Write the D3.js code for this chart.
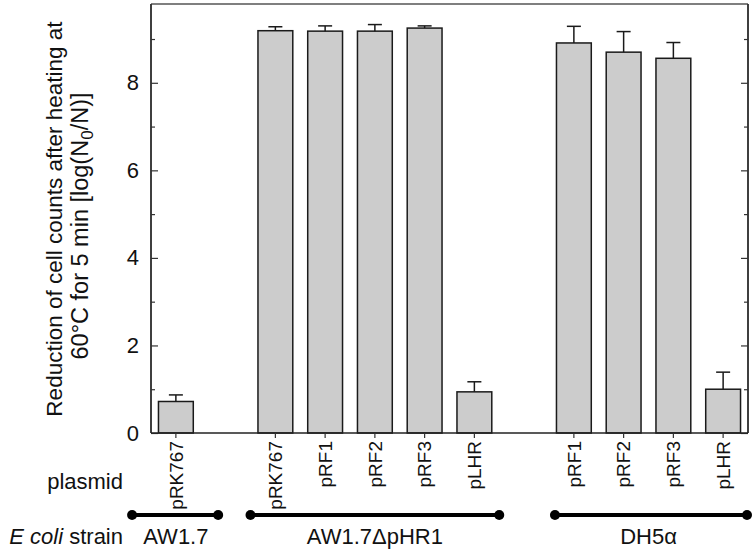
<!DOCTYPE html>
<html>
<head>
<meta charset="utf-8">
<script src="https://cdn.jsdelivr.net/npm/d3@7"></script>
<style>
  html, body { margin: 0; padding: 0; background: #fff; }
  svg { display: block; font-family: Arial, "Liberation Sans", sans-serif; }
</style>
</head>
<body>
<svg id="chart" width="756" height="555"></svg>
<script>
// ---- data ----
const strains = ["AW1.7", "AW1.7\u0394pHR1", "DH5\u03b1"];
const plasmids = [
  ["pRK767"],
  ["pRK767", "pRF1", "pRF2", "pRF3", "pLHR"],
  ["pRF1", "pRF2", "pRF3", "pLHR"]
];
const means = [
  [0.72],
  [9.19, 9.18, 9.18, 9.25, 0.94],
  [8.91, 8.70, 8.56, 1.00]
];
const errors = [
  [0.15],
  [0.09, 0.12, 0.15, 0.05, 0.23],
  [0.38, 0.47, 0.36, 0.39]
];
const yMajorTicks = [0, 2, 4, 6, 8];
const yMinorTicks = [1, 3, 5, 7, 9];
const yMax = 9.8;

// ---- layout ----
const L = 151, R = 748, T = 4, B = 433;
const spanExt = [[0.88, 0.85], [0.5, 0.5], [0.38, 0.48]]; // bracket overhang in steps

const rows = [];
const domain = [];
strains.forEach((s, i) => {
  plasmids[i].forEach((p, j) => {
    const id = i + "-" + j;
    domain.push(id);
    rows.push({ id, strain: s, g: i, plasmid: p, mean: means[i][j], err: errors[i][j] });
  });
  if (i < strains.length - 1) domain.push("gap" + i);
});

const svg = d3.select("#chart");
const x = d3.scaleBand().domain(domain).range([L, R]).paddingInner(0.3).paddingOuter(0.15);
const y = d3.scaleLinear().domain([0, yMax]).range([B, T]);

// bars
svg.append("g").selectAll("rect").data(rows).join("rect")
  .attr("x", d => x(d.id)).attr("width", x.bandwidth())
  .attr("y", d => y(d.mean)).attr("height", d => y(0) - y(d.mean))
  .attr("fill", "#cccccc").attr("stroke", "#1a1a1a").attr("stroke-width", 1.5);

// error bars (upper only)
const eb = svg.append("g").attr("stroke", "#1a1a1a").attr("stroke-width", 1.5);
rows.forEach(d => {
  const cx = x(d.id) + x.bandwidth() / 2;
  eb.append("line").attr("x1", cx).attr("x2", cx).attr("y1", y(d.mean)).attr("y2", y(d.mean + d.err));
  eb.append("line").attr("x1", cx - 7).attr("x2", cx + 7).attr("y1", y(d.mean + d.err)).attr("y2", y(d.mean + d.err));
});

// top border
svg.append("line").attr("x1", L).attr("x2", R).attr("y1", T).attr("y2", T)
  .attr("stroke", "#555").attr("stroke-width", 1.5);

// left axis
const leftMajor = svg.append("g").attr("transform", `translate(${L},0)`)
  .call(d3.axisLeft(y).tickValues(yMajorTicks).tickSize(-7).tickPadding(12).tickFormat(d3.format("d")));
const leftMinor = svg.append("g").attr("transform", `translate(${L},0)`)
  .call(d3.axisLeft(y).tickValues(yMinorTicks).tickSize(-4).tickFormat(""));
// right axis
const rightMajor = svg.append("g").attr("transform", `translate(${R},0)`)
  .call(d3.axisRight(y).tickValues(yMajorTicks).tickSize(-7).tickFormat(""));
const rightMinor = svg.append("g").attr("transform", `translate(${R},0)`)
  .call(d3.axisRight(y).tickValues(yMinorTicks).tickSize(-4).tickFormat(""));
[leftMajor, leftMinor, rightMajor, rightMinor].forEach(g => {
  g.select(".domain").attr("d", `M0,${T}V${B}`).attr("stroke", "#333").attr("stroke-width", 1.5);
  g.selectAll(".tick line").attr("stroke", "#333").attr("stroke-width", 1.2);
  g.selectAll("text").attr("font-size", 22).attr("fill", "#111")
    .attr("font-family", "Arial, 'Liberation Sans', sans-serif");
});

// bottom axis with plasmid labels
const bottom = svg.append("g").attr("transform", `translate(0,${B})`)
  .call(d3.axisBottom(x).tickValues(rows.map(d => d.id)).tickSize(5)
    .tickFormat(id => rows.find(r => r.id === id).plasmid));
bottom.select(".domain").attr("d", `M${L},0H${R}`).attr("stroke", "#222").attr("stroke-width", 1.5);
bottom.selectAll(".tick line").attr("stroke", "#333").attr("stroke-width", 1.2);
bottom.selectAll(".tick text")
  .attr("font-size", 19).attr("fill", "#111")
  .attr("font-family", "Arial, 'Liberation Sans', sans-serif")
  .attr("transform", "rotate(-90)")
  .attr("x", -8).attr("y", 0).attr("dy", "0.35em")
  .style("text-anchor", "end");

// y-axis title
const title = svg.append("g").attr("fill", "#111").attr("text-anchor", "middle");
title.append("text").attr("font-size", 22.5).attr("transform", "translate(62,219) rotate(-90)")
  .text("Reduction of cell counts after heating at");
const t2 = title.append("text").attr("font-size", 23.5).attr("transform", "translate(88,226) rotate(-90)");
t2.append("tspan").text("60\u00b0C for 5 min [log(N");
t2.append("tspan").attr("font-size", 17).attr("dy", 5).text("0");
t2.append("tspan").attr("dy", -5).text("/N)]");

// row labels
svg.append("text").attr("x", 123).attr("y", 489).attr("text-anchor", "end")
  .attr("font-size", 22).attr("fill", "#111").text("plasmid");
const es = svg.append("text").attr("x", 123).attr("y", 544).attr("text-anchor", "end")
  .attr("font-size", 22).attr("fill", "#111");
es.append("tspan").attr("font-style", "italic").text("E coli");
es.append("tspan").text(" strain");

// strain brackets
const step = x.step();
const bracketY = 515;
strains.forEach((s, i) => {
  const ids = plasmids[i].map((p, j) => i + "-" + j);
  const c0 = x(ids[0]) + x.bandwidth() / 2;
  const c1 = x(ids[ids.length - 1]) + x.bandwidth() / 2;
  const x0 = c0 - spanExt[i][0] * step, x1 = c1 + spanExt[i][1] * step;
  svg.append("line").attr("x1", x0).attr("x2", x1).attr("y1", bracketY).attr("y2", bracketY)
    .attr("stroke", "#000").attr("stroke-width", 4);
  [x0, x1].forEach(cx => svg.append("circle").attr("cx", cx).attr("cy", bracketY).attr("r", 5).attr("fill", "#000"));
  svg.append("text").attr("x", (c0 + c1) / 2).attr("y", 544).attr("text-anchor", "middle")
    .attr("font-size", 22).attr("fill", "#111").text(s);
});
</script>
</body>
</html>
